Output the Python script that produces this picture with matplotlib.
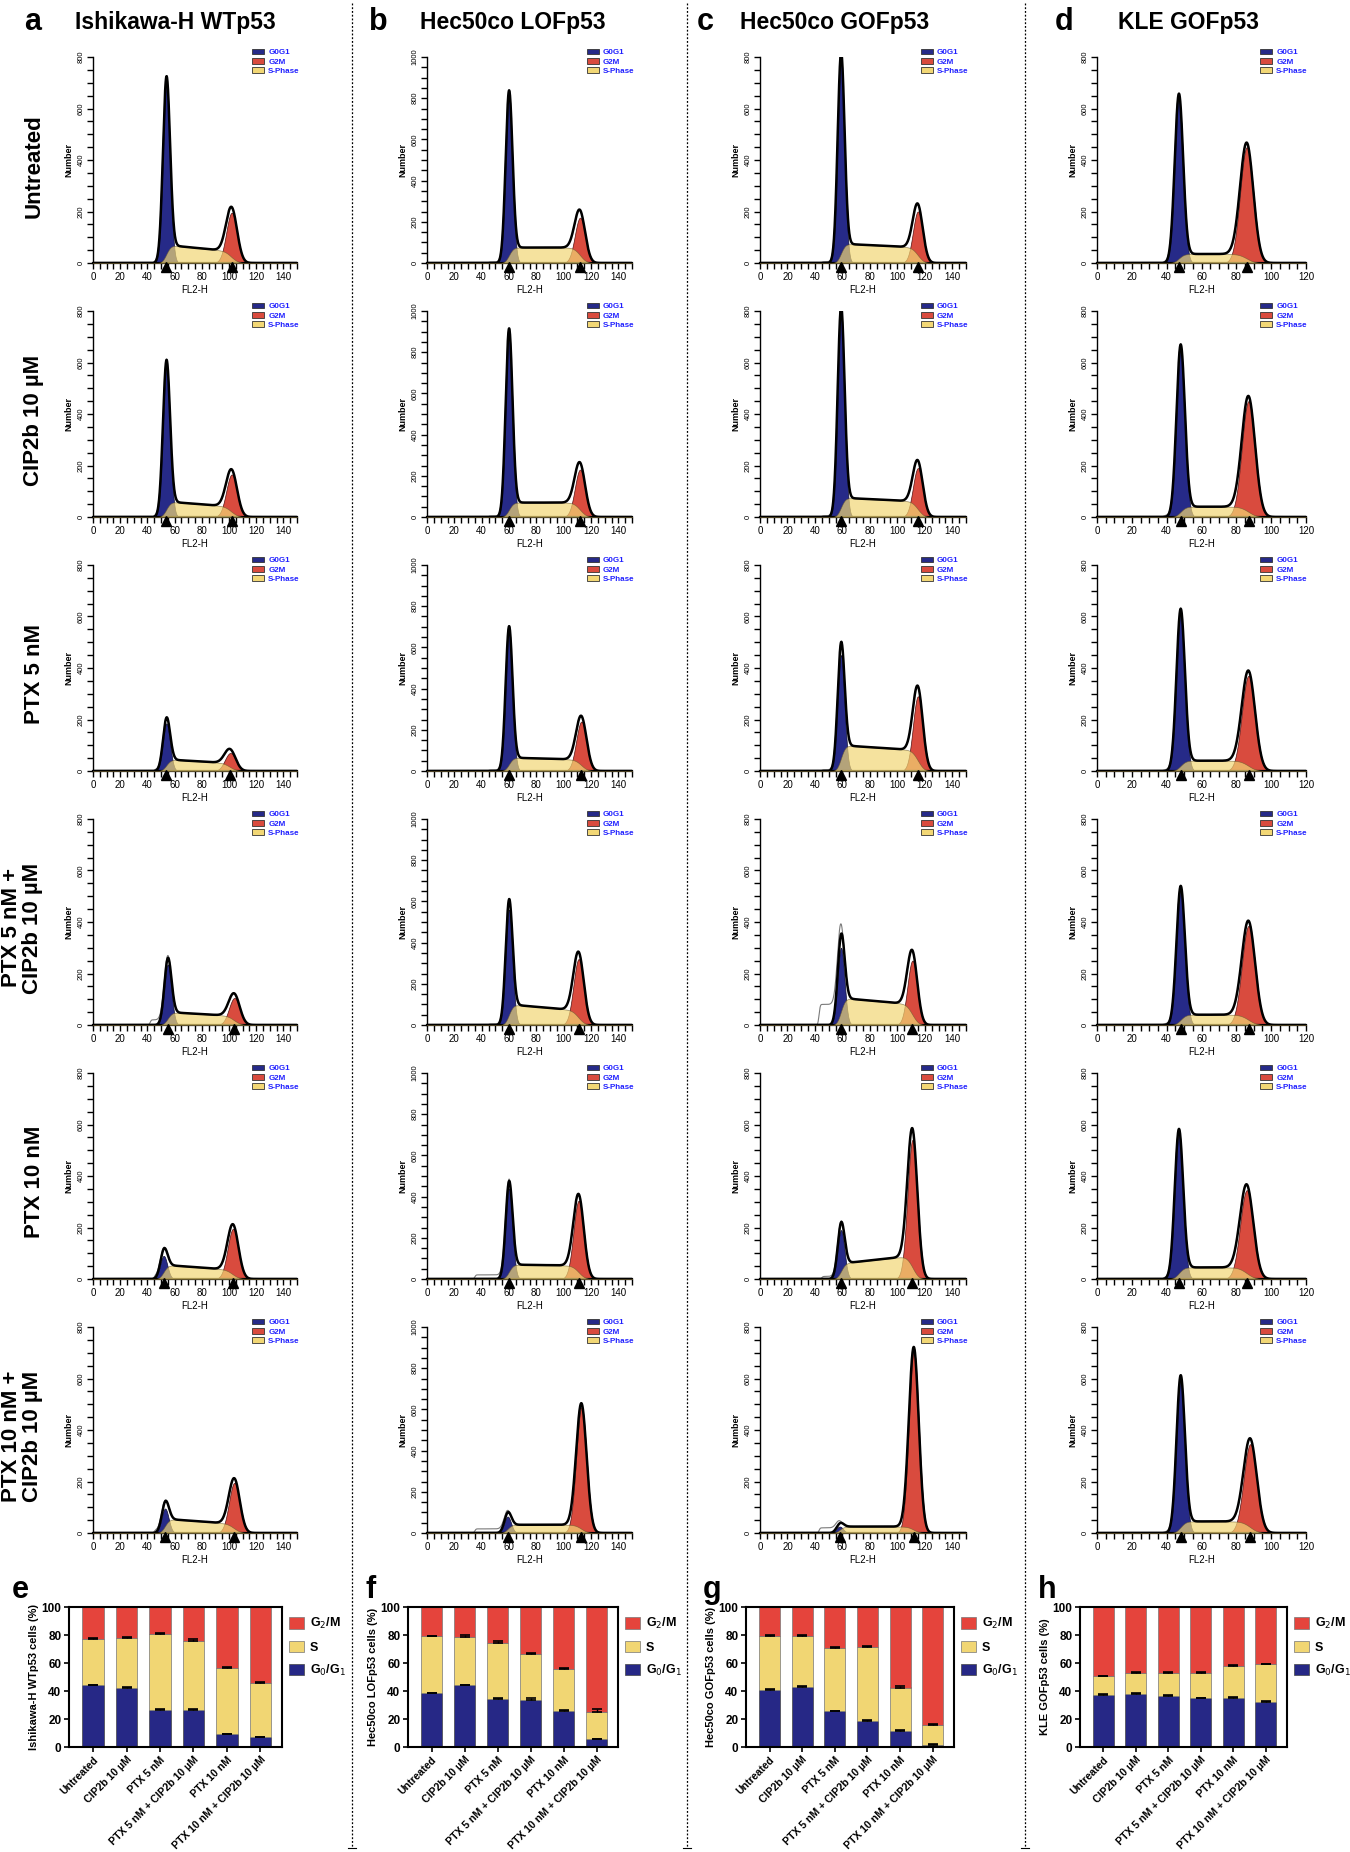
import numpy as np
import matplotlib
matplotlib.use('Agg')
import matplotlib.pyplot as plt
import matplotlib.transforms as mtransforms
from matplotlib.patches import Patch
from matplotlib.lines import Line2D
from matplotlib.ticker import MultipleLocator
from math import erf

plt.rcParams['font.family'] = ['Liberation Sans', 'DejaVu Sans']

W, H = 1350, 1852

# ---------------- data ----------------
cell_lines = ['Ishikawa-H WTp53', 'Hec50co LOFp53', 'Hec50co GOFp53', 'KLE GOFp53']
hist_letters = ['a', 'b', 'c', 'd']
bar_letters = ['e', 'f', 'g', 'h']
treatments = ['Untreated', 'CIP2b 10 µM', 'PTX 5 nM', 'PTX 5 nM + CIP2b 10 µM',
              'PTX 10 nM', 'PTX 10 nM + CIP2b 10 µM']
row_labels = ['Untreated', 'CIP2b 10 µM', 'PTX 5 nM', 'PTX 5 nM +\nCIP2b 10 µM',
              'PTX 10 nM', 'PTX 10 nM +\nCIP2b 10 µM']

x_max = [150, 150, 150, 120]
y_max = [800, 1000, 800, 800]

# ModFit peak parameters (one list per column, rows = treatments)
g1_pos = [[54, 54, 54, 55, 52, 53], [60, 60, 60, 60, 60, 59],
          [59, 59, 59, 59, 59, 58], [47, 48, 48, 48, 47, 48]]
g1_height = [[690, 580, 185, 235, 90, 95], [800, 880, 670, 560, 440, 80],
             [780, 780, 450, 300, 190, 25], [640, 650, 610, 520, 560, 590]]
g2_pos = [[102, 102, 101, 104, 103, 104], [112, 112, 113, 111, 111, 113],
          [115, 115, 115, 111, 111, 112], [86, 87, 87, 87, 86, 88]]
g2_height = [[195, 165, 70, 105, 195, 195], [220, 230, 240, 320, 380, 610],
             [200, 190, 290, 250, 540, 710], [450, 450, 370, 385, 345, 345]]
s_level_start = [[70, 60, 45, 50, 55, 55], [75, 70, 65, 100, 70, 40],
                 [75, 75, 100, 105, 60, 25], [35, 40, 40, 40, 45, 45]]
s_level_end = [[45, 40, 30, 35, 35, 35], [75, 70, 55, 70, 65, 40],
               [60, 60, 80, 80, 90, 25], [35, 40, 40, 40, 45, 45]]
g1_width = [2.6, 2.5, 2.5, 2.4]
g2_width = [4.0, 3.8, 3.6, 3.8]
# debris shoulder seen in the raw data left of G0G1 (start channel, level)
debris_start = [[45, 45, 45, 42, 45, 45], [45, 45, 45, 45, 35, 35],
                [45, 45, 45, 43, 45, 43], [38, 38, 38, 38, 38, 38]]
debris_level = [[5, 5, 5, 20, 10, 10], [5, 5, 5, 5, 20, 20],
                [5, 5, 5, 80, 10, 20], [5, 5, 5, 5, 5, 5]]

# stacked bar percentages (e-h)
g0g1_pct = [[44, 42.5, 26.5, 26.5, 9, 7],
            [38.5, 44, 34.5, 33.5, 26, 5.5],
            [41, 43, 25.5, 18.5, 11.5, 1.5],
            [37.5, 38, 36.5, 35, 35, 32.5]]
s_pct = [[33, 35.5, 54.5, 49.5, 47.5, 38.5],
         [40.5, 34.5, 39.5, 33, 30, 19.5],
         [38.5, 36.5, 45.5, 53, 31, 14.5],
         [13, 15, 16.5, 18, 23, 26.5]]
g0g1_err = [[0.6, 0.6, 0.8, 1.0, 0.5, 0.4],
            [0.4, 0.5, 0.4, 1.2, 0.4, 0.5],
            [0.4, 0.8, 0.4, 0.5, 0.4, 0.5],
            [0.4, 0.4, 0.6, 0.3, 0.6, 0.3]]
s_err = [[0.6, 0.4, 0.4, 1.0, 0.8, 0.8],
         [0.4, 1.5, 1.5, 0.6, 0.5, 1.8],
         [0.8, 0.6, 0.5, 0.6, 1.4, 0.5],
         [0.4, 0.5, 0.8, 0.5, 0.9, 0.5]]
bar_ylabels = ['Ishikawa-H WTp53 cells (%)', 'Hec50co LOFp53 cells (%)',
               'Hec50co GOFp53 cells (%)', 'KLE GOFp53 cells (%)']

# ---------------- style ----------------
c_g1 = '#262a88'
c_g2 = '#d94b3e'
c_s = '#f2d775'
bar_blue = '#262886'
bar_yellow = '#f1d673'
bar_red = '#e5443c'

# pixel layout
hist_left = [93, 427, 760, 1097]
hist_right = [297, 632, 966, 1306]
row_top0, row_bot0, row_step = 57, 263, 254
bar_left = [69, 408, 746, 1080]
bar_right = [282, 618, 954, 1287]
bar_top, bar_bot = 1607, 1747


def px_axes(l, t, r, b):
    return fig.add_axes([l / W, 1 - b / H, (r - l) / W, (b - t) / H])


fig = plt.figure(figsize=(W / 100, H / 100), dpi=100)
verf = np.vectorize(erf)

for ci in range(4):
    x = np.linspace(0, x_max[ci], 1500)
    for ri in range(6):
        top = row_top0 + ri * row_step
        bot = row_bot0 + ri * row_step
        ax = px_axes(hist_left[ci], top, hist_right[ci], bot)

        m1, m2 = g1_pos[ci][ri], g2_pos[ci][ri]
        s1, s2 = g1_width[ci], g2_width[ci]
        g1 = g1_height[ci][ri] * np.exp(-0.5 * ((x - m1) / s1) ** 2)
        g2 = g2_height[ci][ri] * np.exp(-0.5 * ((x - m2) / s2) ** 2)
        frac = np.clip((x - m1) / (m2 - m1), 0, 1)
        level = s_level_start[ci][ri] + (s_level_end[ci][ri] - s_level_start[ci][ri]) * frac
        step = 0.5 * (1 + verf((x - m1) / (np.sqrt(2) * s1))) * \
            0.5 * (1 - verf((x - m2) / (np.sqrt(2) * s2)))
        sph = level * step
        total = g1 + g2 + sph
        d0 = debris_start[ci][ri]
        deb = debris_level[ci][ri] * 0.5 * (1 + verf((x - d0) / 1.0)) * \
            0.5 * (1 - verf((x - m1) / 2.0))
        raw = total + deb

        ax.fill_between(x, 0, g1, color=c_g1, lw=0.5, edgecolor='#111133', zorder=2)
        ax.fill_between(x, 0, g2, color=c_g2, lw=0.5, edgecolor='#551111', zorder=2)
        ax.fill_between(x, 0, sph, color=c_s, alpha=0.7, lw=0.5, edgecolor='#6b5a30', zorder=3)
        ax.plot(x, raw, color='#7a7a7a', lw=0.8, zorder=4)
        ax.plot(x, total, color='black', lw=1.8, zorder=5)

        off = mtransforms.ScaledTranslation(0, -4 / 100, fig.dpi_scale_trans)
        ax.plot([m1, m2], [0, 0], linestyle='none', marker='^', ms=7, color='black',
                transform=ax.transData + off, clip_on=False, zorder=6)

        ax.set_xlim(0, x_max[ci])
        ax.set_ylim(0, y_max[ci])
        ax.xaxis.set_major_locator(MultipleLocator(20))
        ax.xaxis.set_minor_locator(MultipleLocator(5))
        ax.yaxis.set_major_locator(MultipleLocator(200))
        ax.yaxis.set_minor_locator(MultipleLocator(50))
        ax.tick_params(which='both', direction='out', length=4.5, width=1.0, color='black')
        ax.tick_params(axis='x', labelsize=7, pad=2)
        ax.tick_params(axis='y', labelsize=5.5, labelrotation=90, pad=1.5)
        for lab in ax.get_yticklabels():
            lab.set_va('center')
        ax.spines['top'].set_visible(False)
        ax.spines['right'].set_visible(False)
        ax.spines['bottom'].set_linewidth(1.6)
        ax.spines['left'].set_linewidth(1.0)
        ax.set_ylabel('Number', fontsize=6.5, fontweight='bold', labelpad=3)
        ax.set_xlabel('FL2-H', fontsize=7, labelpad=2)
        ax.patch.set_alpha(0)

        handles = [Patch(fc=c_g1, ec='#333333', lw=0.6),
                   Patch(fc=c_g2, ec='#333333', lw=0.6),
                   Patch(fc=c_s, ec='#333333', lw=0.6)]
        ax.legend(handles, ['G0G1', 'G2M', 'S-Phase'], loc='upper left',
                  bbox_to_anchor=(0.78, 1.04), frameon=False,
                  prop={'size': 5.8, 'weight': 'bold'},
                  labelcolor='#2020ff', handlelength=1.5, handleheight=0.7,
                  handletextpad=0.5, labelspacing=0.2, borderpad=0, borderaxespad=0)

# column titles
letter_x = [33, 378, 705, 1064]
title_x = [175, 513, 835, 1188]
for ci in range(4):
    fig.text(letter_x[ci] / W, 1 - 22 / H, hist_letters[ci], fontsize=22,
             fontweight='bold', ha='center', va='center')
    fig.text(title_x[ci] / W, 1 - 22 / H, cell_lines[ci], fontsize=16.5,
             fontweight='bold', ha='center', va='center')

# row labels
for ri in range(6):
    yc = (row_top0 + row_bot0) / 2 + ri * row_step + 6
    xc = 22 if '\n' in row_labels[ri] else 34
    fig.text(xc / W, 1 - yc / H, row_labels[ri], fontsize=16, fontweight='bold',
             rotation=90, ha='center', va='center', multialignment='center',
             linespacing=1.05)

# stacked bars
bar_letter_x = [20, 371, 712, 1047]
xpos = np.arange(len(treatments))
for ci in range(4):
    ax = px_axes(bar_left[ci], bar_top, bar_right[ci], bar_bot)
    g0 = np.array(g0g1_pct[ci])
    s = np.array(s_pct[ci])
    g2 = 100 - g0 - s
    ax.bar(xpos, g0, width=0.64, color=bar_blue, edgecolor='#444444', lw=0.5,
           label='G$_0$/G$_1$', zorder=2)
    ax.bar(xpos, s, bottom=g0, width=0.64, color=bar_yellow, edgecolor='#777777',
           lw=0.5, label='S', zorder=2)
    ax.bar(xpos, g2, bottom=g0 + s, width=0.64, color=bar_red, edgecolor='#777777',
           lw=0.5, label='G$_2$/M', zorder=2)
    ax.errorbar(xpos, g0, yerr=[np.zeros(6), g0g1_err[ci]], fmt='none', ecolor='black',
                elinewidth=1.0, capsize=3.5, capthick=1.2, zorder=3)
    ax.errorbar(xpos, g0 + s, yerr=[np.zeros(6), s_err[ci]], fmt='none', ecolor='black',
                elinewidth=1.0, capsize=3.5, capthick=1.2, zorder=3)
    ax.set_xlim(-0.72, 5.65)
    ax.set_ylim(0, 100)
    ax.set_yticks([0, 20, 40, 60, 80, 100])
    ax.set_xticks(xpos)
    ax.set_xticklabels(treatments, rotation=45, ha='right', rotation_mode='anchor',
                       fontsize=7.6, fontweight='bold')
    for lab in ax.get_yticklabels():
        lab.set_fontweight('bold')
    ax.tick_params(axis='y', labelsize=8.5, width=1.2, length=3.5, pad=2)
    ax.tick_params(axis='x', width=1.2, length=3.5, pad=2)
    for sp in ax.spines.values():
        sp.set_linewidth(1.5)
    ax.set_ylabel(bar_ylabels[ci], fontsize=8, fontweight='bold', labelpad=2)
    hdl, lbl = ax.get_legend_handles_labels()
    ax.legend(hdl[::-1], lbl[::-1], loc='upper left', bbox_to_anchor=(1.01, 0.97),
              frameon=False, prop={'weight': 'bold', 'size': 9}, handlelength=1.2,
              handleheight=1.0, labelspacing=0.75, handletextpad=0.45, borderaxespad=0)
    fig.text(bar_letter_x[ci] / W, 1 - 1590 / H, bar_letters[ci], fontsize=22,
             fontweight='bold', ha='center', va='center')

# dashed separators between columns
for xs in [352, 687, 1025]:
    fig.add_artist(Line2D([xs / W, xs / W], [1 - 3 / H, 1 - 1848 / H], color='black',
                          lw=0.9, linestyle=(0, (1.5, 1.5))))
    fig.add_artist(Line2D([(xs - 4) / W, (xs + 4) / W], [1 - 1848 / H, 1 - 1848 / H],
                          color='black', lw=0.8))

fig.savefig('out.png', dpi=100)
